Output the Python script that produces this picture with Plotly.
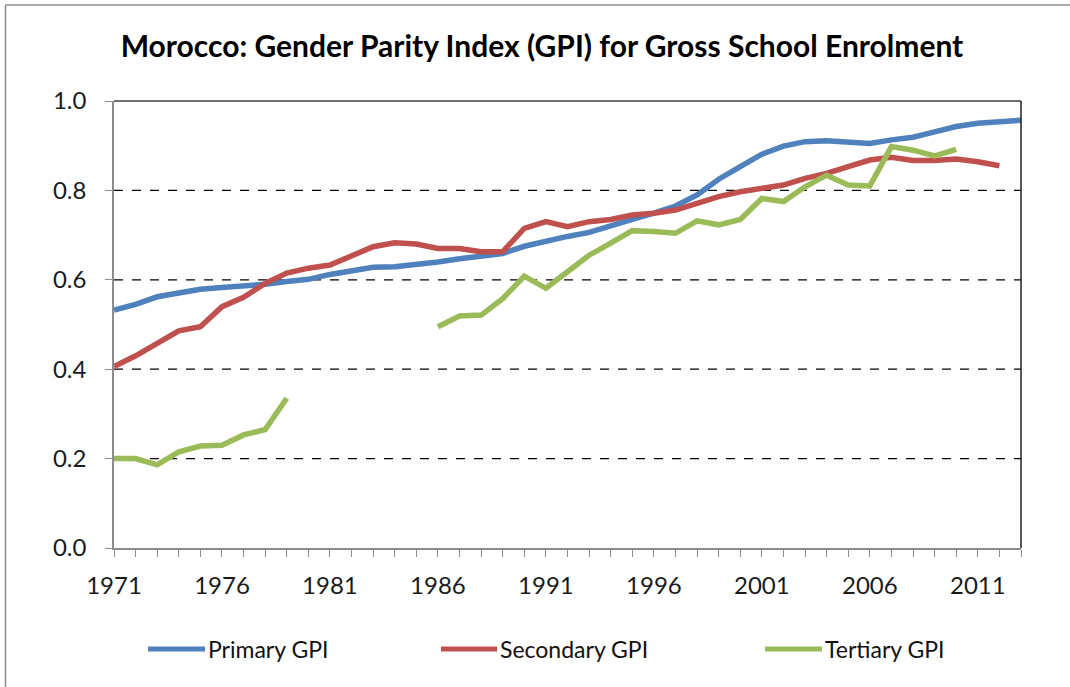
import plotly.graph_objects as go

years = list(range(1971, 2014))

primary = [0.532, 0.545, 0.562, 0.572, 0.579, 0.583, 0.586, 0.590, 0.596, 0.601,
           0.612, 0.620, 0.628, 0.629, 0.633, 0.640, 0.647, 0.652, 0.659, 0.675,
           0.687, 0.697, 0.706, 0.719, 0.735, 0.749, 0.765, 0.790, 0.825, 0.853,
           0.881, 0.899, 0.909, 0.911, 0.909, 0.905, 0.913, 0.919, 0.931, 0.943,
           0.950, 0.954, 0.957]

secondary = [0.406, 0.430, 0.458, 0.486, 0.495, 0.540, 0.561, 0.592, 0.615, 0.626,
             0.633, 0.652, 0.674, 0.683, 0.680, 0.670, 0.670, 0.663, 0.663, 0.715,
             0.730, 0.719, 0.730, 0.735, 0.745, 0.749, 0.756, 0.771, 0.786, 0.797,
             0.805, 0.812, 0.827, 0.838, 0.853, 0.868, 0.874, 0.867, 0.867, 0.870,
             0.864, 0.855, None]

tertiary = [0.200, 0.200, 0.186, 0.215, 0.228, 0.230, 0.253, 0.265, 0.335, None,
            None, None, None, None, None, 0.495, 0.519, 0.521, 0.558, 0.608,
            0.581, 0.618, 0.655, 0.682, 0.710, 0.708, 0.704, 0.732, 0.723, 0.735,
            0.782, 0.775, 0.808, 0.834, 0.812, 0.810, 0.898, 0.890, 0.877, 0.892,
            None, None, None]

x_tick_years = [1971, 1976, 1981, 1986, 1991, 1996, 2001, 2006, 2011]
y_ticks = [0.0, 0.2, 0.4, 0.6, 0.8, 1.0]

series_names = ["Primary GPI", "Secondary GPI", "Tertiary GPI"]
series_colors = ["#4F81BD", "#C0504D", "#9BBB59"]
series_values = [primary, secondary, tertiary]

FONT = "Lato, 'Open Sans', sans-serif"

W, H = 1070, 687
L, T = 114, 101
PR, PB = 1021, 548
R, B = W - PR, H - PB
pw, ph = PR - L, PB - T


def px(xr):
    return (xr - L) / pw


def py(yr):
    return 1 - (yr - T) / ph


fig = go.Figure()
for name, vals, col in zip(series_names, series_values, series_colors):
    fig.add_trace(go.Scatter(x=years, y=vals, name=name, mode="lines",
                             line=dict(color=col, width=5.5), connectgaps=False,
                             showlegend=False))

# dashed gridlines
for v in [0.2, 0.4, 0.6, 0.8]:
    fig.add_shape(type="line", xref="paper", yref="y", x0=0, x1=1, y0=v, y1=v,
                  line=dict(color="black", width=1.3, dash="dash"), layer="below")
# top and right plot borders
fig.add_shape(type="line", xref="paper", yref="paper", x0=0, x1=1, y0=1, y1=1,
              line=dict(color="#404040", width=1.5))
fig.add_shape(type="line", xref="paper", yref="paper", x0=1, x1=1, y0=0, y1=1,
              line=dict(color="#202020", width=1.5))
# outer frame (left and top edges visible)
fig.add_shape(type="line", xref="paper", yref="paper",
              x0=px(5.5), x1=px(1075), y0=py(5), y1=py(5),
              line=dict(color="#8c8c8c", width=1.5))
fig.add_shape(type="line", xref="paper", yref="paper",
              x0=px(5.5), x1=px(5.5), y0=py(5), y1=py(690),
              line=dict(color="#8c8c8c", width=1.5))

# legend (drawn as line samples + text)
leg_x = [(148, 205, 206), (441, 497, 498), (765, 822, 823)]
leg_y = 649
for (x0, x1, xt), name, col in zip(leg_x, series_names, series_colors):
    fig.add_shape(type="line", xref="paper", yref="paper",
                  x0=px(x0), x1=px(x1), y0=py(leg_y), y1=py(leg_y),
                  line=dict(color=col, width=5))
    fig.add_annotation(xref="paper", yref="paper", x=px(xt), y=py(leg_y),
                       xanchor="left", yanchor="middle", showarrow=False,
                       text=name, font=dict(family=FONT, size=23, color="#111"))

fig.update_layout(
    width=W, height=H,
    margin=dict(l=L, r=R, t=T, b=B, autoexpand=False),
    paper_bgcolor="white", plot_bgcolor="white",
    title=dict(text="<b>Morocco: Gender Parity Index (GPI) for Gross School Enrolment</b>",
               x=(122 + 962) / 2 / W, xanchor="center",
               y=1 - 46 / H, yanchor="middle",
               font=dict(family=FONT, size=30, color="black")),
    xaxis=dict(range=[1971, 2013], tickvals=x_tick_years,
               ticktext=[str(y) for y in x_tick_years],
               showgrid=False, zeroline=False, showline=True, linecolor="#8c8c8c",
               linewidth=1.5, ticks="outside", ticklen=7, tickcolor="#8c8c8c",
               ticklabelstandoff=8,
               minor=dict(dtick=1, tick0=1971, ticks="outside", ticklen=7,
                          tickcolor="#8c8c8c", showgrid=False),
               tickfont=dict(family=FONT, size=24, color="#1a1a1a")),
    yaxis=dict(range=[0, 1.0], tickvals=y_ticks,
               ticktext=[f"{v:.1f}" for v in y_ticks],
               showgrid=False, zeroline=False, showline=True, linecolor="#8c8c8c",
               linewidth=1.5, ticks="outside", ticklen=7, tickcolor="#8c8c8c",
               ticklabelstandoff=14,
               tickfont=dict(family=FONT, size=24, color="#1a1a1a")),
    showlegend=False,
)

fig.write_html("out.html", config={"displayModeBar": False},
               post_script="document.body.style.margin='0';document.body.style.overflow='hidden';")
